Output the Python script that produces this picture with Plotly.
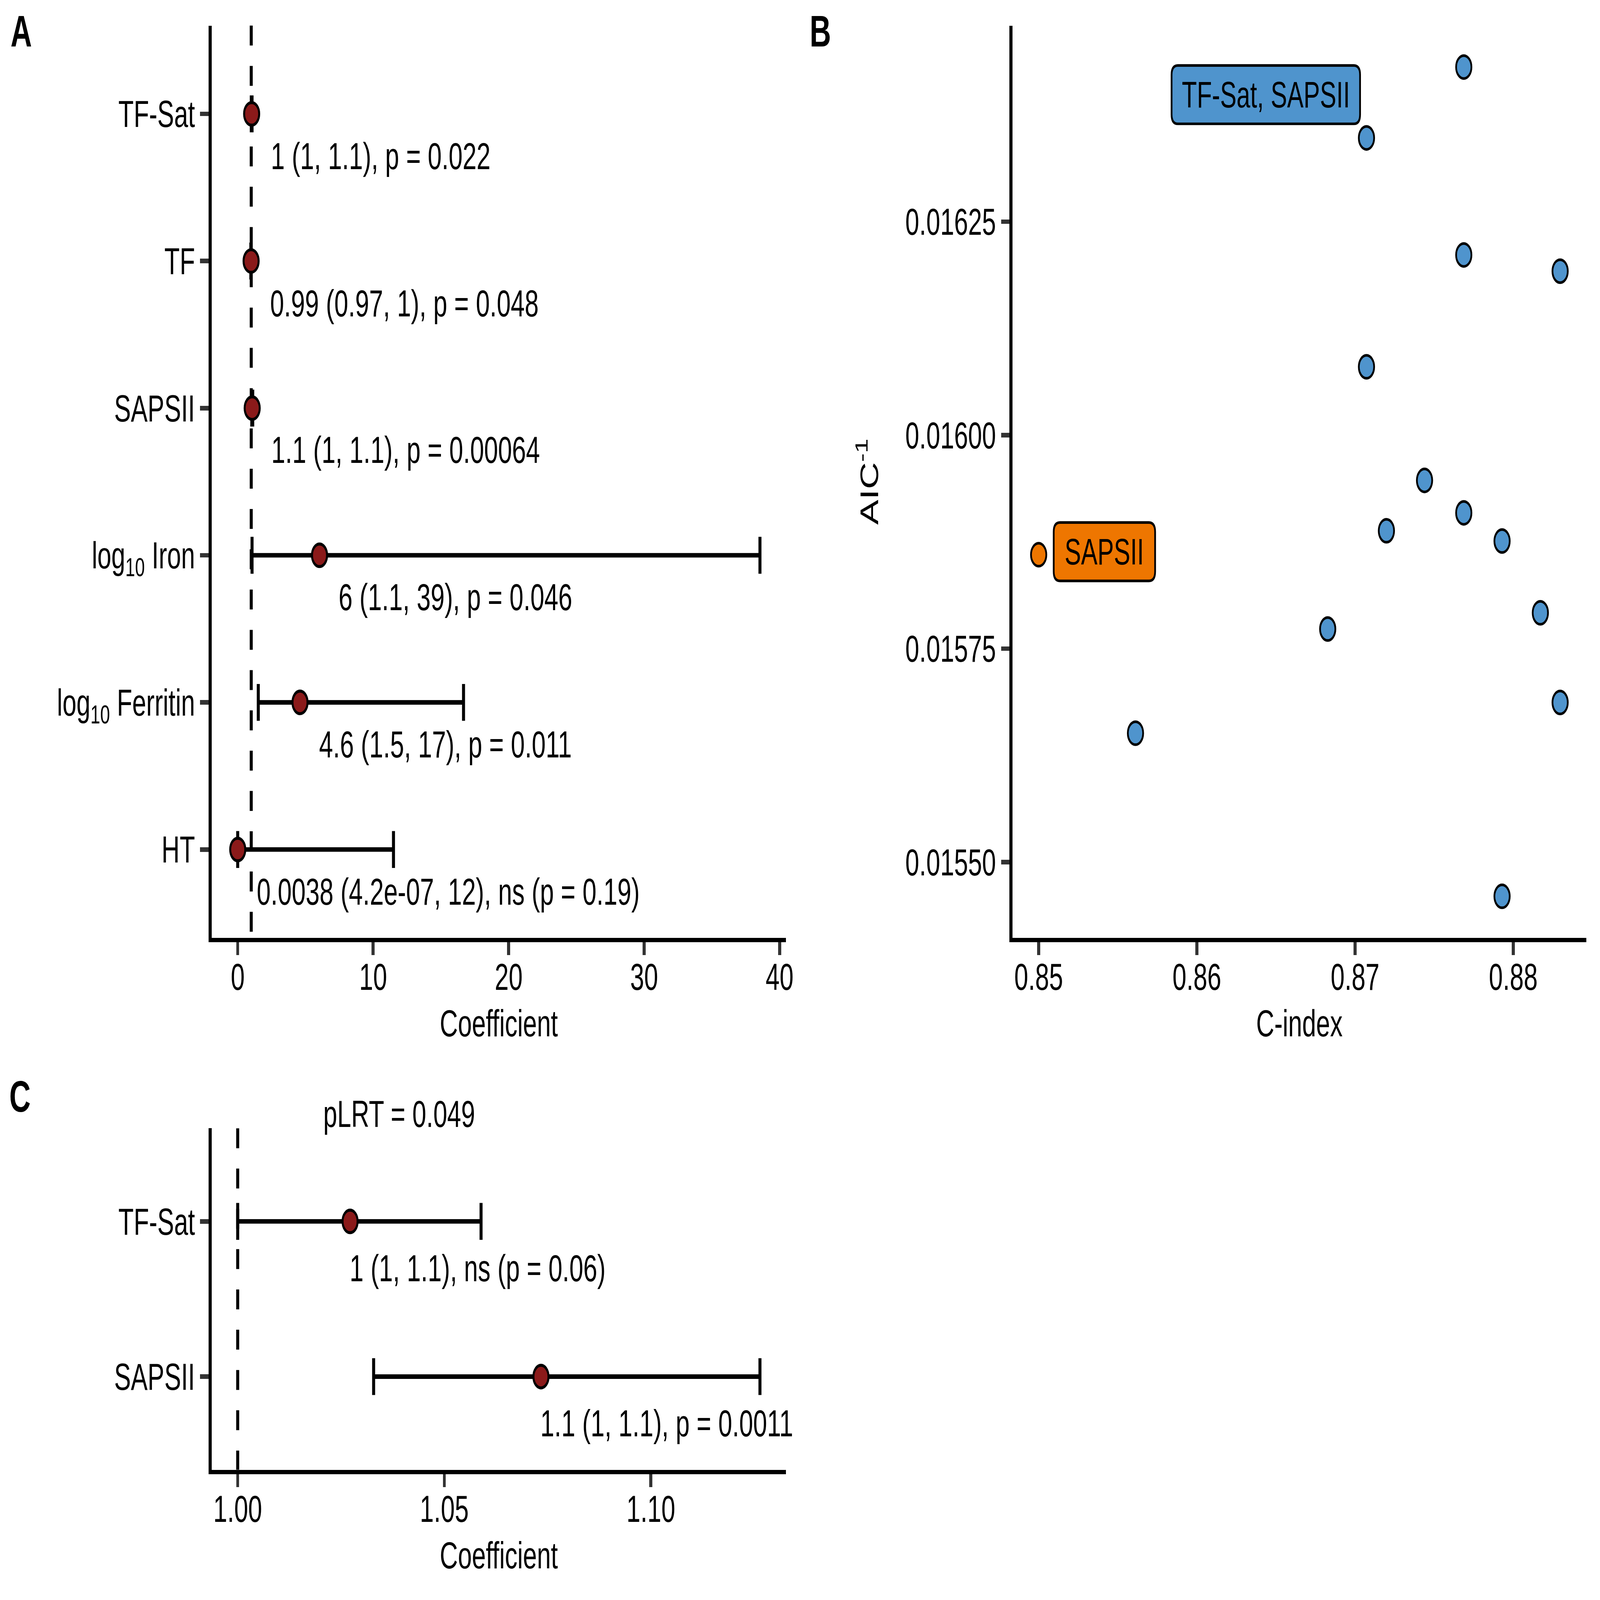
import plotly.graph_objects as go

# ---------------- data ----------------
# Panel A (top-to-bottom order)
a_vars = ["TF-Sat", "TF", "SAPSII", "log<sub>10</sub> Iron", "log<sub>10</sub> Ferritin", "HT"]
a_est = [1.03, 0.99, 1.07, 6.04, 4.60, 0.0038]
a_lo = [1.004, 0.97, 1.04, 1.06, 1.52, 4.2e-07]
a_hi = [1.06, 1.00, 1.11, 38.55, 16.67, 11.5]
a_text = ["1 (1, 1.1), p = 0.022",
          "0.99 (0.97, 1), p = 0.048",
          "1.1 (1, 1.1), p = 0.00064",
          "6 (1.1, 39), p = 0.046",
          "4.6 (1.5, 17), p = 0.011",
          "0.0038 (4.2e-07, 12), ns (p = 0.19)"]
a_xticks = [0, 10, 20, 30, 40]

# Panel B
b_cindex = [0.87687, 0.87072, 0.87687, 0.88296, 0.87072, 0.87439, 0.87687, 0.87198,
            0.87929, 0.85000, 0.88171, 0.86827, 0.88296, 0.85612, 0.87929]
b_aicinv = [0.016431, 0.016348, 0.016211, 0.016192, 0.016080, 0.015947, 0.015909, 0.015888,
            0.015876, 0.015860, 0.015792, 0.015773, 0.015687, 0.015651, 0.015460]
b_group = ["multi"] * 9 + ["single"] + ["multi"] * 5
b_label = ["", "TF-Sat, SAPSII", "", "", "", "", "", "", "", "SAPSII", "", "", "", "", ""]
b_xticks = [0.85, 0.86, 0.87, 0.88]
b_yticks = [0.01550, 0.01575, 0.01600, 0.01625]

# Panel C
c_vars = ["TF-Sat", "SAPSII"]
c_est = [1.0272, 1.0734]
c_lo = [1.0000, 1.0329]
c_hi = [1.0589, 1.1264]
c_text = ["1 (1, 1.1), ns (p = 0.06)", "1.1 (1, 1.1), p = 0.0011"]
c_title = "pLRT = 0.049"
c_xticks = [1.00, 1.05, 1.10]

# ---------------- styling ----------------
W, H = 6375, 4250
FONT = "Liberation Sans, Arial, Helvetica, sans-serif"
PT_COLOR = "#8B1A1A"
GROUP_COLORS = {"multi": "#4F94CD", "single": "#EE7600"}
LW = 12
TICKLEN = 34


def expand(lo, hi, f=0.05):
    span = hi - lo
    return [lo - f * span, hi + f * span]


def px_x(p):
    return p / W


def px_y(p):
    return 1 - p / H


def rounded_box(cx, cy, w, h, r):
    """Rounded rectangle path in pixels, relative to an anchor point (y up)."""
    l, rt, b, t = cx - w / 2, cx + w / 2, cy - h / 2, cy + h / 2
    return (f"M {l + r},{b} L {rt - r},{b} Q {rt},{b} {rt},{b + r} "
            f"L {rt},{t - r} Q {rt},{t} {rt - r},{t} L {l + r},{t} "
            f"Q {l},{t} {l},{t - r} L {l},{b + r} Q {l},{b} {l + r},{b} Z")


fig = go.Figure()

# ---- Panel A ----
a_order = list(reversed(a_vars))  # bottom-to-top
fig.add_trace(go.Scatter(
    x=a_est, y=a_vars, mode="markers", xaxis="x", yaxis="y",
    marker=dict(size=60, color=PT_COLOR, line=dict(width=8, color="black")),
    error_x=dict(type="data", symmetric=False,
                 array=[h - e for h, e in zip(a_hi, a_est)],
                 arrayminus=[e - l for e, l in zip(a_est, a_lo)],
                 thickness=LW, width=49, color="black"),
    showlegend=False, hoverinfo="skip"))

# ---- Panel B ----
for g in ["multi", "single"]:
    idx = [i for i, gg in enumerate(b_group) if gg == g]
    fig.add_trace(go.Scatter(
        x=[b_cindex[i] for i in idx], y=[b_aicinv[i] for i in idx],
        mode="markers", xaxis="x2", yaxis="y2",
        marker=dict(size=61, color=GROUP_COLORS[g], line=dict(width=7, color="black")),
        showlegend=False, hoverinfo="skip"))

# ---- Panel C ----
c_order = list(reversed(c_vars))
fig.add_trace(go.Scatter(
    x=c_est, y=c_vars, mode="markers", xaxis="x3", yaxis="y3",
    marker=dict(size=60, color=PT_COLOR, line=dict(width=8, color="black")),
    error_x=dict(type="data", symmetric=False,
                 array=[h - e for h, e in zip(c_hi, c_est)],
                 arrayminus=[e - l for e, l in zip(c_est, c_lo)],
                 thickness=LW, width=49, color="black"),
    showlegend=False, hoverinfo="skip"))

# reference lines at HR = 1
for xr, yr in [("x", "y domain"), ("x3", "y3 domain")]:
    fig.add_shape(type="line", xref=xr, yref=yr, x0=1, x1=1, y0=1, y1=0,
                  line=dict(color="black", width=LW, dash="53px,54px"), layer="below")

annotations = []
for v, e, t in zip(a_vars, a_est, a_text):
    annotations.append(dict(x=e, y=a_order.index(v) - 0.3, xref="x", yref="y", text=t,
                            showarrow=False, xanchor="left", yanchor="middle",
                            xshift=74, yshift=6,
                            font=dict(size=100, color="black", family=FONT)))
for v, e, t in zip(c_vars, c_est, c_text):
    annotations.append(dict(x=e, y=c_order.index(v) - 0.3, xref="x3", yref="y3", text=t,
                            showarrow=False, xanchor="left", yanchor="middle", xshift=-4,
                            font=dict(size=100, color="black", family=FONT)))

# repelled label boxes of panel B (offsets in px from their point)
label_style = {"TF-Sat, SAPSII": dict(dx=-401, dy=115, w=751),
               "SAPSII": dict(dx=262, dy=8, w=404)}
BOX_H, BOX_R = 155, 25
for cx, ay, lab, g in zip(b_cindex, b_aicinv, b_label, b_group):
    if not lab:
        continue
    st = label_style[lab]
    fig.add_shape(type="path", xref="x2", yref="y2", xsizemode="pixel", ysizemode="pixel",
                  xanchor=cx, yanchor=ay,
                  path=rounded_box(st["dx"], st["dy"], st["w"], BOX_H, BOX_R),
                  fillcolor=GROUP_COLORS[g], line=dict(color="black", width=7), layer="above")
    annotations.append(dict(x=cx, y=ay, xref="x2", yref="y2", text=lab, showarrow=False,
                            xanchor="center", yanchor="middle",
                            xshift=st["dx"], yshift=st["dy"],
                            font=dict(size=98, color="black", family=FONT)))

for letter, (lx, ly) in zip(["A", "B", "C"], [(84, 82), (3269, 82), (79, 2912)]):
    annotations.append(dict(x=px_x(lx), y=px_y(ly), xref="paper", yref="paper",
                            text=f"<b>{letter}</b>", showarrow=False,
                            xanchor="center", yanchor="middle",
                            font=dict(size=118, color="black", family=FONT)))
annotations.append(dict(x=px_x(1590), y=px_y(2958), xref="paper", yref="paper",
                        text=c_title, showarrow=False, xanchor="center", yanchor="middle",
                        font=dict(size=100, color="black", family=FONT)))

axis_common = dict(showline=True, linewidth=LW, linecolor="black", showgrid=False,
                   zeroline=False, ticks="outside", ticklen=TICKLEN, tickwidth=LW,
                   tickcolor="#333333", tickfont=dict(size=100, color="black", family=FONT),
                   title_font=dict(size=100, color="black", family=FONT), automargin=False)
xaxis_extra = dict(ticklabelstandoff=-28)

dom_a_x = [px_x(843), px_x(3132)]
dom_a_y = [px_y(2491), px_y(68)]
dom_b_x = [px_x(4034.5), px_x(6320)]
dom_c_y = [px_y(3904), px_y(2997)]

fig.update_layout(
    width=W, height=H, autosize=False, margin=dict(l=0, r=0, t=0, b=0),
    paper_bgcolor="white", plot_bgcolor="white",
    font=dict(family=FONT, size=100, color="black"),
    xaxis=dict(axis_common, **xaxis_extra, domain=dom_a_x, anchor="y",
               range=expand(min(a_lo), max(a_hi)), tickvals=a_xticks,
               title=dict(text="Coefficient", standoff=39)),
    yaxis=dict(axis_common, domain=dom_a_y, anchor="x", type="category",
               categoryorder="array", categoryarray=a_order, range=[-0.6, len(a_vars) - 0.4]),
    xaxis2=dict(axis_common, **xaxis_extra, domain=dom_b_x, anchor="y2",
                range=expand(min(b_cindex), max(b_cindex)), tickvals=b_xticks,
                tickformat=".2f", title=dict(text="C-index", standoff=39)),
    yaxis2=dict(axis_common, domain=dom_a_y, anchor="x2",
                range=expand(min(b_aicinv), max(b_aicinv)), tickvals=b_yticks,
                tickformat=".5f", title=dict(text="AIC<sup>-1</sup>", standoff=80)),
    xaxis3=dict(axis_common, **xaxis_extra, domain=dom_a_x, anchor="y3",
                range=expand(min(c_lo), max(c_hi)), tickvals=c_xticks,
                tickformat=".2f", title=dict(text="Coefficient", standoff=39)),
    yaxis3=dict(axis_common, domain=dom_c_y, anchor="x3", type="category",
                categoryorder="array", categoryarray=c_order, range=[-0.6, len(c_vars) - 0.4]),
    annotations=annotations,
)

# keep the whole 6375x4250 figure inside the browser window, whatever its actual size
fit_script = """
(function(){
  var gd = document.getElementById('{plot_id}');
  var de = document.documentElement, bd = document.body;
  de.style.margin = '0'; de.style.padding = '0'; de.style.overflow = 'hidden';
  bd.style.margin = '0'; bd.style.padding = '0'; bd.style.overflow = 'hidden';
  function fit(){
    var w = window.innerWidth, h = window.innerHeight;
    var sx = w / %d, sy = h / %d;
    gd.style.transformOrigin = '0 0';
    if (Math.abs(sx - 1) < 1e-3 && Math.abs(sy - 1) < 1e-3) {
      gd.style.transform = '';
    } else {
      gd.style.transform = 'scale(' + sx + ',' + sy + ')';
    }
  }
  fit();
  window.addEventListener('resize', fit);
})();
""" % (W, H)

fig.write_html("out.html", post_script=fit_script, config={"displayModeBar": False})
